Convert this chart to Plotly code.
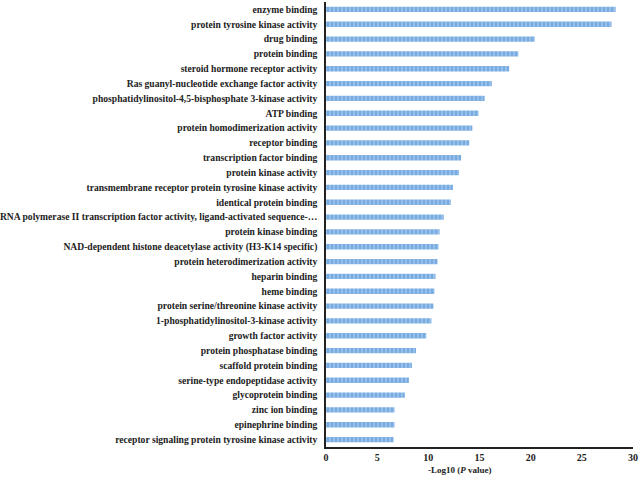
import plotly.graph_objects as go

terms = [
    "enzyme binding",
    "protein tyrosine kinase activity",
    "drug binding",
    "protein binding",
    "steroid hormone receptor activity",
    "Ras guanyl-nucleotide exchange factor activity",
    "phosphatidylinositol-4,5-bisphosphate 3-kinase activity",
    "ATP binding",
    "protein homodimerization activity",
    "receptor binding",
    "transcription factor binding",
    "protein kinase activity",
    "transmembrane receptor protein tyrosine kinase activity",
    "identical protein binding",
    "RNA polymerase II transcription factor activity, ligand-activated sequence-…",
    "protein kinase binding",
    "NAD-dependent histone deacetylase activity (H3-K14 specific)",
    "protein heterodimerization activity",
    "heparin binding",
    "heme binding",
    "protein serine/threonine kinase activity",
    "1-phosphatidylinositol-3-kinase activity",
    "growth factor activity",
    "protein phosphatase binding",
    "scaffold protein binding",
    "serine-type endopeptidase activity",
    "glycoprotein binding",
    "zinc ion binding",
    "epinephrine binding",
    "receptor signaling protein tyrosine kinase activity",
]
neg_log10_p = [
    28.3, 27.9, 20.4, 18.8, 17.9, 16.2, 15.5, 14.9, 14.3, 14.0,
    13.2, 13.0, 12.4, 12.2, 11.5, 11.1, 11.0, 10.9, 10.7, 10.6,
    10.5, 10.3, 9.8, 8.8, 8.4, 8.1, 7.7, 6.7, 6.7, 6.6,
]
x_ticks = [0, 5, 10, 15, 20, 25, 30]

fig = go.Figure(go.Bar(
    x=neg_log10_p, y=terms, orientation="h", width=0.36,
    marker=dict(color="#6fa5dc", line=dict(width=0),
                pattern=dict(shape="|", fgcolor="#5b97d6", bgcolor="#95bfea", size=4, solidity=0.5)),
    cliponaxis=False,
))

fam = "Liberation Serif, Times New Roman, serif"
fig.update_layout(
    width=640, height=477,
    margin=dict(l=326, r=7, t=2, b=30),
    plot_bgcolor="white", paper_bgcolor="white",
    showlegend=False,
    font=dict(family=fam, size=10, color="#222222"),
    xaxis=dict(range=[0, 30], tickvals=x_ticks, showgrid=False, zeroline=False,
               showline=True, linecolor="#222222", linewidth=1.5, ticks="",
               automargin=False,
               tickfont=dict(family=fam, size=10, color="#222222", weight="bold")),
    yaxis=dict(autorange="reversed", showgrid=False, zeroline=False,
               showline=True, linecolor="#222222", linewidth=1.5, ticks="",
               automargin=False,
               tickfont=dict(family=fam, size=9.6, color="#222222", weight="bold"),
               ticklabelstandoff=5),
    annotations=[dict(text="<b>-Log10 (<i>P</i> value)</b>", xref="paper", yref="paper",
                      x=0.436, y=0, yshift=-30, xanchor="center", yanchor="bottom",
                      showarrow=False, font=dict(family=fam, size=9, color="#222222"))],
)

fig.write_html("out.html", config={"displayModeBar": False},
               post_script="document.body.style.margin='0';document.body.style.overflow='hidden';")
